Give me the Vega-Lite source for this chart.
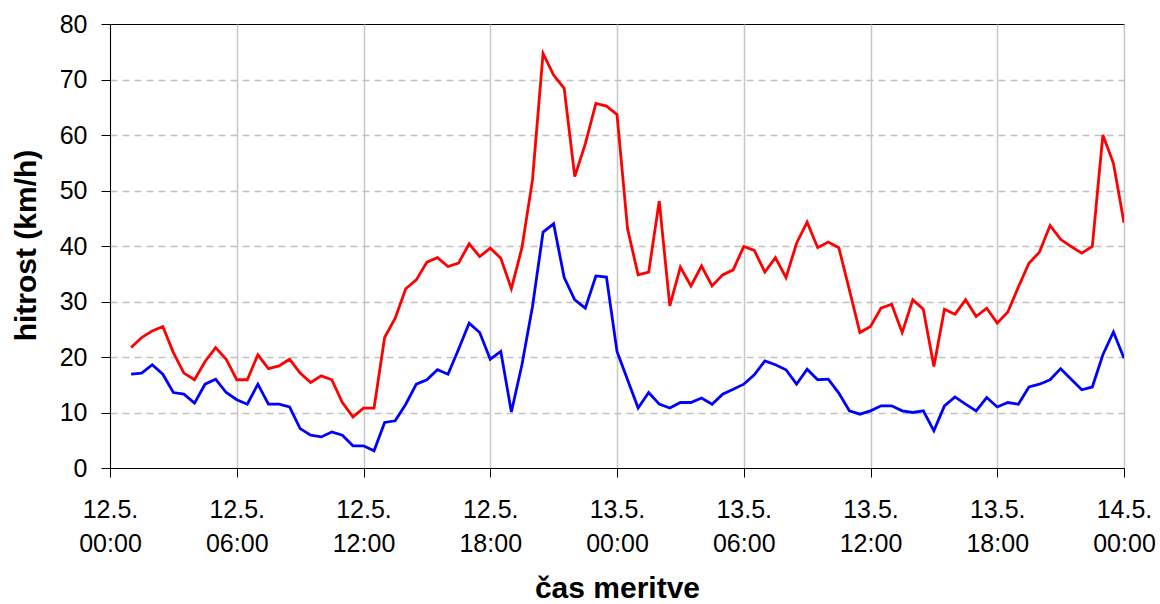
{
  "$schema": "https://vega.github.io/schema/vega-lite/v6.json",
  "width": 1014,
  "height": 444,
  "autosize": {"type": "none"},
  "padding": {"left": 110, "top": 24, "right": 36, "bottom": 136},
  "background": "white",
  "config": {
    "view": {"stroke": "#000000", "strokeWidth": 1},
    "font": "Liberation Sans"
  },
  "data": {"values": [
    {"t":"2008-05-12T01:00","s":"max","v":21.7},{"t":"2008-05-12T01:30","s":"max","v":23.5},{"t":"2008-05-12T02:00","s":"max","v":24.7},{"t":"2008-05-12T02:30","s":"max","v":25.5},
    {"t":"2008-05-12T03:00","s":"max","v":20.8},{"t":"2008-05-12T03:30","s":"max","v":17.1},{"t":"2008-05-12T04:00","s":"max","v":15.9},{"t":"2008-05-12T04:30","s":"max","v":19.2},
    {"t":"2008-05-12T05:00","s":"max","v":21.7},{"t":"2008-05-12T05:30","s":"max","v":19.6},{"t":"2008-05-12T06:00","s":"max","v":15.9},{"t":"2008-05-12T06:30","s":"max","v":15.9},
    {"t":"2008-05-12T07:00","s":"max","v":20.4},{"t":"2008-05-12T07:30","s":"max","v":17.9},{"t":"2008-05-12T08:00","s":"max","v":18.4},{"t":"2008-05-12T08:30","s":"max","v":19.6},
    {"t":"2008-05-12T09:00","s":"max","v":17.1},{"t":"2008-05-12T09:30","s":"max","v":15.4},{"t":"2008-05-12T10:00","s":"max","v":16.6},{"t":"2008-05-12T10:30","s":"max","v":15.9},
    {"t":"2008-05-12T11:00","s":"max","v":11.8},{"t":"2008-05-12T11:30","s":"max","v":9.2},{"t":"2008-05-12T12:00","s":"max","v":10.8},{"t":"2008-05-12T12:30","s":"max","v":10.8},
    {"t":"2008-05-12T13:00","s":"max","v":23.5},{"t":"2008-05-12T13:30","s":"max","v":27.0},{"t":"2008-05-12T14:00","s":"max","v":32.3},{"t":"2008-05-12T14:30","s":"max","v":33.9},
    {"t":"2008-05-12T15:00","s":"max","v":37.1},{"t":"2008-05-12T15:30","s":"max","v":37.9},{"t":"2008-05-12T16:00","s":"max","v":36.3},{"t":"2008-05-12T16:30","s":"max","v":36.9},
    {"t":"2008-05-12T17:00","s":"max","v":40.4},{"t":"2008-05-12T17:30","s":"max","v":38.1},{"t":"2008-05-12T18:00","s":"max","v":39.6},{"t":"2008-05-12T18:30","s":"max","v":37.8},
    {"t":"2008-05-12T19:00","s":"max","v":32.3},{"t":"2008-05-12T19:30","s":"max","v":39.7},{"t":"2008-05-12T20:00","s":"max","v":51.9},{"t":"2008-05-12T20:30","s":"max","v":74.7},
    {"t":"2008-05-12T21:00","s":"max","v":70.8},{"t":"2008-05-12T21:30","s":"max","v":68.4},{"t":"2008-05-12T22:00","s":"max","v":52.5},{"t":"2008-05-12T22:30","s":"max","v":58.4},
    {"t":"2008-05-12T23:00","s":"max","v":65.7},{"t":"2008-05-12T23:30","s":"max","v":65.2},{"t":"2008-05-13T00:00","s":"max","v":63.7},{"t":"2008-05-13T00:30","s":"max","v":43.1},
    {"t":"2008-05-13T01:00","s":"max","v":34.8},{"t":"2008-05-13T01:30","s":"max","v":35.3},{"t":"2008-05-13T02:00","s":"max","v":48.1},{"t":"2008-05-13T02:30","s":"max","v":29.2},
    {"t":"2008-05-13T03:00","s":"max","v":36.2},{"t":"2008-05-13T03:30","s":"max","v":32.8},{"t":"2008-05-13T04:00","s":"max","v":36.4},{"t":"2008-05-13T04:30","s":"max","v":32.8},
    {"t":"2008-05-13T05:00","s":"max","v":34.8},{"t":"2008-05-13T05:30","s":"max","v":35.7},{"t":"2008-05-13T06:00","s":"max","v":39.9},{"t":"2008-05-13T06:30","s":"max","v":39.2},
    {"t":"2008-05-13T07:00","s":"max","v":35.3},{"t":"2008-05-13T07:30","s":"max","v":37.9},{"t":"2008-05-13T08:00","s":"max","v":34.3},{"t":"2008-05-13T08:30","s":"max","v":40.5},
    {"t":"2008-05-13T09:00","s":"max","v":44.3},{"t":"2008-05-13T09:30","s":"max","v":39.7},{"t":"2008-05-13T10:00","s":"max","v":40.7},{"t":"2008-05-13T10:30","s":"max","v":39.7},
    {"t":"2008-05-13T11:00","s":"max","v":32.1},{"t":"2008-05-13T11:30","s":"max","v":24.4},{"t":"2008-05-13T12:00","s":"max","v":25.5},{"t":"2008-05-13T12:30","s":"max","v":28.8},
    {"t":"2008-05-13T13:00","s":"max","v":29.5},{"t":"2008-05-13T13:30","s":"max","v":24.4},{"t":"2008-05-13T14:00","s":"max","v":30.3},{"t":"2008-05-13T14:30","s":"max","v":28.6},
    {"t":"2008-05-13T15:00","s":"max","v":18.3},{"t":"2008-05-13T15:30","s":"max","v":28.6},{"t":"2008-05-13T16:00","s":"max","v":27.7},{"t":"2008-05-13T16:30","s":"max","v":30.3},
    {"t":"2008-05-13T17:00","s":"max","v":27.3},{"t":"2008-05-13T17:30","s":"max","v":28.8},{"t":"2008-05-13T18:00","s":"max","v":26.1},{"t":"2008-05-13T18:30","s":"max","v":28.1},
    {"t":"2008-05-13T19:00","s":"max","v":32.6},{"t":"2008-05-13T19:30","s":"max","v":36.9},{"t":"2008-05-13T20:00","s":"max","v":38.9},{"t":"2008-05-13T20:30","s":"max","v":43.7},
    {"t":"2008-05-13T21:00","s":"max","v":41.2},{"t":"2008-05-13T21:30","s":"max","v":39.9},{"t":"2008-05-13T22:00","s":"max","v":38.7},{"t":"2008-05-13T22:30","s":"max","v":39.9},
    {"t":"2008-05-13T23:00","s":"max","v":60.0},{"t":"2008-05-13T23:30","s":"max","v":54.9},{"t":"2008-05-14T00:00","s":"max","v":44.2},
    {"t":"2008-05-12T01:00","s":"povp","v":16.9},{"t":"2008-05-12T01:30","s":"povp","v":17.1},{"t":"2008-05-12T02:00","s":"povp","v":18.6},{"t":"2008-05-12T02:30","s":"povp","v":16.9},
    {"t":"2008-05-12T03:00","s":"povp","v":13.6},{"t":"2008-05-12T03:30","s":"povp","v":13.3},{"t":"2008-05-12T04:00","s":"povp","v":11.7},{"t":"2008-05-12T04:30","s":"povp","v":15.1},
    {"t":"2008-05-12T05:00","s":"povp","v":16.0},{"t":"2008-05-12T05:30","s":"povp","v":13.6},{"t":"2008-05-12T06:00","s":"povp","v":12.3},{"t":"2008-05-12T06:30","s":"povp","v":11.5},
    {"t":"2008-05-12T07:00","s":"povp","v":15.1},{"t":"2008-05-12T07:30","s":"povp","v":11.5},{"t":"2008-05-12T08:00","s":"povp","v":11.5},{"t":"2008-05-12T08:30","s":"povp","v":11.0},
    {"t":"2008-05-12T09:00","s":"povp","v":7.1},{"t":"2008-05-12T09:30","s":"povp","v":5.9},{"t":"2008-05-12T10:00","s":"povp","v":5.6},{"t":"2008-05-12T10:30","s":"povp","v":6.5},
    {"t":"2008-05-12T11:00","s":"povp","v":5.9},{"t":"2008-05-12T11:30","s":"povp","v":4.0},{"t":"2008-05-12T12:00","s":"povp","v":4.0},{"t":"2008-05-12T12:30","s":"povp","v":3.1},
    {"t":"2008-05-12T13:00","s":"povp","v":8.2},{"t":"2008-05-12T13:30","s":"povp","v":8.5},{"t":"2008-05-12T14:00","s":"povp","v":11.5},{"t":"2008-05-12T14:30","s":"povp","v":15.1},
    {"t":"2008-05-12T15:00","s":"povp","v":15.9},{"t":"2008-05-12T15:30","s":"povp","v":17.7},{"t":"2008-05-12T16:00","s":"povp","v":16.9},{"t":"2008-05-12T16:30","s":"povp","v":21.4},
    {"t":"2008-05-12T17:00","s":"povp","v":26.1},{"t":"2008-05-12T17:30","s":"povp","v":24.4},{"t":"2008-05-12T18:00","s":"povp","v":19.6},{"t":"2008-05-12T18:30","s":"povp","v":21.0},
    {"t":"2008-05-12T19:00","s":"povp","v":10.1},{"t":"2008-05-12T19:30","s":"povp","v":18.6},{"t":"2008-05-12T20:00","s":"povp","v":29.1},{"t":"2008-05-12T20:30","s":"povp","v":42.5},
    {"t":"2008-05-12T21:00","s":"povp","v":44.0},{"t":"2008-05-12T21:30","s":"povp","v":34.3},{"t":"2008-05-12T22:00","s":"povp","v":30.3},{"t":"2008-05-12T22:30","s":"povp","v":28.8},
    {"t":"2008-05-12T23:00","s":"povp","v":34.6},{"t":"2008-05-12T23:30","s":"povp","v":34.4},{"t":"2008-05-13T00:00","s":"povp","v":21.0},{"t":"2008-05-13T00:30","s":"povp","v":15.9},
    {"t":"2008-05-13T01:00","s":"povp","v":10.8},{"t":"2008-05-13T01:30","s":"povp","v":13.6},{"t":"2008-05-13T02:00","s":"povp","v":11.5},{"t":"2008-05-13T02:30","s":"povp","v":10.8},
    {"t":"2008-05-13T03:00","s":"povp","v":11.8},{"t":"2008-05-13T03:30","s":"povp","v":11.8},{"t":"2008-05-13T04:00","s":"povp","v":12.6},{"t":"2008-05-13T04:30","s":"povp","v":11.5},
    {"t":"2008-05-13T05:00","s":"povp","v":13.3},{"t":"2008-05-13T05:30","s":"povp","v":14.2},{"t":"2008-05-13T06:00","s":"povp","v":15.1},{"t":"2008-05-13T06:30","s":"povp","v":16.8},
    {"t":"2008-05-13T07:00","s":"povp","v":19.3},{"t":"2008-05-13T07:30","s":"povp","v":18.6},{"t":"2008-05-13T08:00","s":"povp","v":17.7},{"t":"2008-05-13T08:30","s":"povp","v":15.1},
    {"t":"2008-05-13T09:00","s":"povp","v":17.8},{"t":"2008-05-13T09:30","s":"povp","v":15.9},{"t":"2008-05-13T10:00","s":"povp","v":16.0},{"t":"2008-05-13T10:30","s":"povp","v":13.5},
    {"t":"2008-05-13T11:00","s":"povp","v":10.3},{"t":"2008-05-13T11:30","s":"povp","v":9.7},{"t":"2008-05-13T12:00","s":"povp","v":10.3},{"t":"2008-05-13T12:30","s":"povp","v":11.2},
    {"t":"2008-05-13T13:00","s":"povp","v":11.2},{"t":"2008-05-13T13:30","s":"povp","v":10.3},{"t":"2008-05-13T14:00","s":"povp","v":10.0},{"t":"2008-05-13T14:30","s":"povp","v":10.3},
    {"t":"2008-05-13T15:00","s":"povp","v":6.7},{"t":"2008-05-13T15:30","s":"povp","v":11.2},{"t":"2008-05-13T16:00","s":"povp","v":12.8},{"t":"2008-05-13T16:30","s":"povp","v":11.5},
    {"t":"2008-05-13T17:00","s":"povp","v":10.3},{"t":"2008-05-13T17:30","s":"povp","v":12.7},{"t":"2008-05-13T18:00","s":"povp","v":11.0},{"t":"2008-05-13T18:30","s":"povp","v":11.8},
    {"t":"2008-05-13T19:00","s":"povp","v":11.5},{"t":"2008-05-13T19:30","s":"povp","v":14.6},{"t":"2008-05-13T20:00","s":"povp","v":15.1},{"t":"2008-05-13T20:30","s":"povp","v":15.9},
    {"t":"2008-05-13T21:00","s":"povp","v":17.9},{"t":"2008-05-13T21:30","s":"povp","v":16.0},{"t":"2008-05-13T22:00","s":"povp","v":14.1},{"t":"2008-05-13T22:30","s":"povp","v":14.6},
    {"t":"2008-05-13T23:00","s":"povp","v":20.4},{"t":"2008-05-13T23:30","s":"povp","v":24.5},{"t":"2008-05-14T00:00","s":"povp","v":19.8}
  ]},
  "mark": {"type": "line", "strokeWidth": 2.8, "strokeJoin": "miter", "clip": true},
  "encoding": {
    "x": {
      "field": "t", "type": "temporal",
      "scale": {"domain": [{"year": 2008, "month": "may", "date": 12, "hours": 0}, {"year": 2008, "month": "may", "date": 14, "hours": 0}], "nice": false},
      "axis": {
        "title": "čas meritve",
        "values": [
          {"year": 2008, "month": "may", "date": 12, "hours": 0},
          {"year": 2008, "month": "may", "date": 12, "hours": 6},
          {"year": 2008, "month": "may", "date": 12, "hours": 12},
          {"year": 2008, "month": "may", "date": 12, "hours": 18},
          {"year": 2008, "month": "may", "date": 13, "hours": 0},
          {"year": 2008, "month": "may", "date": 13, "hours": 6},
          {"year": 2008, "month": "may", "date": 13, "hours": 12},
          {"year": 2008, "month": "may", "date": 13, "hours": 18},
          {"year": 2008, "month": "may", "date": 14, "hours": 0}
        ],
        "labelExpr": "[timeFormat(datum.value, '%-d.%-m.'), timeFormat(datum.value, '%H:%M')]",
        "labelFont": "Liberation Sans", "labelFontSize": 25, "labelColor": "#000000",
        "labelLineHeight": 34, "labelPadding": 20, "labelFlush": false, "labelOverlap": false,
        "tickSize": 9, "tickColor": "#000000", "tickWidth": 1,
        "domainColor": "#000000", "domainWidth": 1,
        "grid": true, "gridColor": "#c8c8c8", "gridWidth": 1.5,
        "titleFont": "Liberation Sans", "titleFontSize": 30, "titleFontWeight": "bold", "titleColor": "#000000",
        "titleBaseline": "alphabetic", "titleY": 129
      }
    },
    "y": {
      "field": "v", "type": "quantitative",
      "scale": {"domain": [0, 80], "nice": false},
      "axis": {
        "title": "hitrost (km/h)",
        "values": [0, 10, 20, 30, 40, 50, 60, 70, 80],
        "labelFont": "Liberation Sans", "labelFontSize": 25, "labelColor": "#000000",
        "labelPadding": 14, "tickSize": 9, "tickColor": "#000000",
        "domainColor": "#000000", "domainWidth": 1,
        "grid": true, "gridColor": "#c0c0c0", "gridWidth": 1.5, "gridDash": [7, 5],
        "gridOpacity": {"condition": {"test": "datum.value == 0 || datum.value == 80", "value": 0}, "value": 1},
        "titleFont": "Liberation Sans", "titleFontSize": 30, "titleFontWeight": "bold", "titleColor": "#000000",
        "titleAngle": -90, "titleBaseline": "alphabetic", "titleX": -75, "titleY": 221
      }
    },
    "color": {
      "field": "s", "type": "nominal",
      "scale": {"domain": ["max", "povp"], "range": ["#ff0000", "#0000ff"]},
      "legend": null
    }
  }
}
